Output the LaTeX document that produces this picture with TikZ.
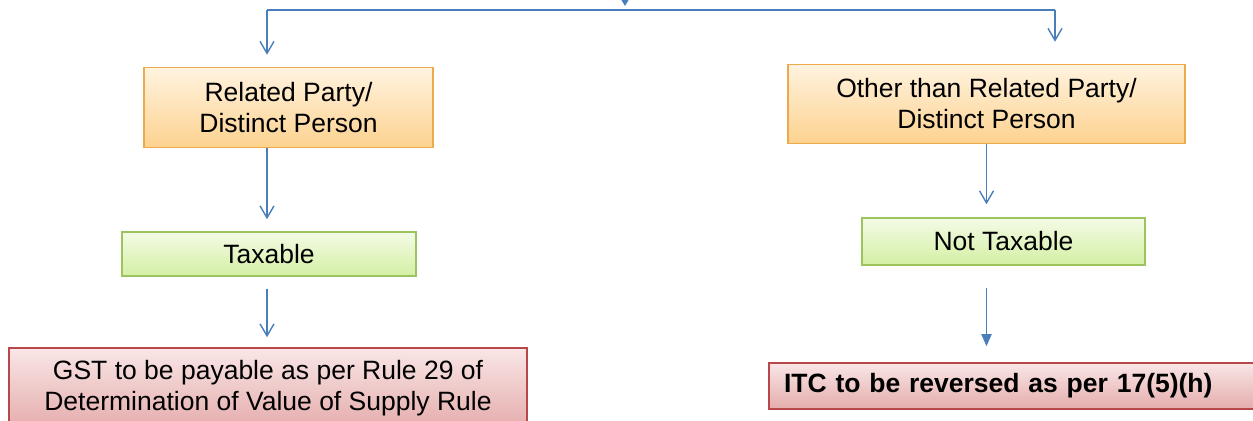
\documentclass[tikz,border=0pt]{standalone}
\usepackage{fontspec}
\setmainfont{Liberation Sans}
\usepackage{xcolor}
\usetikzlibrary{arrows.meta}

\definecolor{arrowblue}{HTML}{4A7EBB}
\definecolor{orangeline}{HTML}{EDAA4A}
\definecolor{orangetop}{HTML}{FFF3DF}
\definecolor{orangebot}{HTML}{FDD290}
\definecolor{greenline}{HTML}{9DC35E}
\definecolor{greentop}{HTML}{F4FBE6}
\definecolor{greenbot}{HTML}{D3EFA3}
\definecolor{redline}{HTML}{B8474A}
\definecolor{redtop}{HTML}{F9E6E6}
\definecolor{redbot}{HTML}{E5ACAC}

\begin{document}
\begin{tikzpicture}[x=0.5pt, y=-0.5pt,
  box/.style={draw, line width=0.75pt, shading=axis, align=center, inner sep=0pt,
    font=\fontsize{13.25pt}{15.5pt}\selectfont},
  orangebox/.style={box, draw=orangeline, top color=orangetop, bottom color=orangebot},
  greenbox/.style={box, draw=greenline, top color=greentop, bottom color=greenbot},
  redbox/.style={box, draw=redline, top color=redtop, bottom color=redbot},
  bus/.style={draw=arrowblue, line width=0.9pt},
  link/.style={draw=arrowblue, line width=0.7pt, -{Straight Barb[length=6pt,width=7pt]}},
  solidlink/.style={draw=arrowblue, line width=0.9pt, -{Triangle[length=6pt,width=5pt]}}]
  \useasboundingbox (0,0) rectangle (1253,421);

  % Boxes
  \node[orangebox, minimum width=144.5pt, minimum height=40pt] (rel) at (288.5,107.5)
    {Related Party/\\Distinct Person};
  \node[greenbox, minimum width=147pt, minimum height=22pt] (tax) at (269,254) {Taxable};
  \node[redbox, minimum width=259pt, minimum height=40.5pt] (gst) at (268,388.5)
    {GST to be payable as per Rule 29 of\\Determination of Value of Supply Rule};

  \node[orangebox, minimum width=198.5pt, minimum height=39.5pt] (other) at (986.5,104)
    {Other than Related Party/\\Distinct Person};
  \node[greenbox, minimum width=141.5pt, minimum height=23.5pt] (nottax) at (1003.5,241.5) {Not Taxable};
  \node[redbox, minimum width=243pt, minimum height=23pt, text width=228pt, align=left,
    inner xsep=7.5pt, font=\fontsize{13.25pt}{15.5pt}\selectfont\bfseries] (itc) at (1012,386)
    {ITC to be reversed as per 17(5)(h)};

  % Split line at the top
  \coordinate (src) at (625,-30);
  \coordinate (join) at (625,6);
  \coordinate (lcorner) at (267,10);
  \coordinate (rcorner) at (1055,10);
  \draw[solidlink, -{Triangle[length=6pt,width=7pt]}] (src) -- (join);
  \draw[bus] (lcorner) -- (rcorner);
  \draw[link, shorten >=6pt] (lcorner) -- (lcorner |- rel.north);
  \draw[link, shorten >=11pt] (rcorner) -- (rcorner |- other.north);

  % Left branch
  \draw[link, shorten >=6pt] (lcorner |- rel.south) -- (lcorner |- tax.north);
  \draw[link, shorten <=6pt, shorten >=5pt] (lcorner |- tax.south) -- (lcorner |- gst.north);

  % Right branch
  \draw[link, shorten >=6.5pt] (other.south) -- (other.south |- nottax.north);
  \draw[solidlink, shorten <=11pt, shorten >=8pt] (other.south |- nottax.south) -- (other.south |- itc.north);
\end{tikzpicture}
\end{document}
